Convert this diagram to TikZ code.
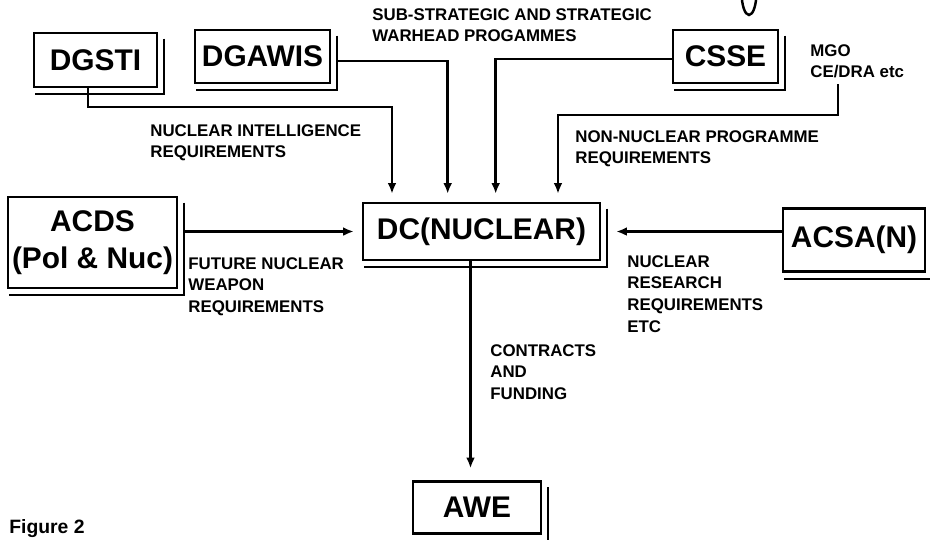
\documentclass[tikz,border=0pt]{standalone}
\usepackage{fontspec}
\setmainfont{Liberation Sans}
\usetikzlibrary{arrows.meta}

\begin{document}
\begin{tikzpicture}[
		x=0.02cm, y=-0.02cm,
		B/.style={draw, line width=1.5pt, inner sep=0pt, align=center, font=\fontsize{17}{21}\selectfont\bfseries},
		T/.style={anchor=north west, inner sep=0pt, align=left, font=\fontsize{9.6}{12.4}\selectfont\bfseries},
		F/.style={line width=1.4pt, -{Latex[length=6pt,width=5pt]}, shorten >=1.6mm},
		S/.style={line width=1pt}
		]
		\useasboundingbox (0,0) rectangle (930,539);
		
		\node [B, minimum width=24.6mm, minimum height=10.8mm] (dgsti) at (95.5,60) {DGSTI};
		\node [B, minimum width=27mm, minimum height=10.6mm] (dgawis) at (262.5,56.5) {DGAWIS};
		\node [B, minimum width=21mm, minimum height=10.6mm] (csse) at (725.5,56.5) {CSSE};
		\node [B, minimum width=33.8mm, minimum height=18.2mm] (acds) at (92.5,242.5) {ACDS\\(Pol \& Nuc)};
		\node [B, minimum width=47.4mm, minimum height=11.4mm] (dc) at (481.5,231.5) {DC(NUCLEAR)};
		\node [B, minimum width=28.4mm, minimum height=12.6mm] (acsa) at (854,240) {ACSA(N)};
		\node [B, minimum width=25.6mm, minimum height=10.4mm] (awe) at (477,507.5) {AWE};
		
		% shadow lines
		\foreach \n in {dgsti,dgawis,csse,acds,dc,acsa,awe}{
			\draw [S] ([shift={(1.2mm,-1.4mm)}]\n.north east) -- ([shift={(1.2mm,-1.2mm)}]\n.south east) -- ([shift={(0.4mm,-1.2mm)}]\n.south west);
		}
		
		% write labels
		\node [T] (sub) at (372,8) {SUB-STRATEGIC AND STRATEGIC\\WARHEAD PROGAMMES};
		\node [T] (intel) at (150,124) {NUCLEAR INTELLIGENCE\\REQUIREMENTS};
		\node [T] (nonnuc) at (575,130) {NON-NUCLEAR PROGRAMME\\REQUIREMENTS};
		\node [T] (mgo) at (810,44) {MGO\\CE/DRA etc};
		\node [T] (future) at (188,257) {FUTURE NUCLEAR\\WEAPON\\REQUIREMENTS};
		\node [T] (research) at (627,255) {NUCLEAR\\RESEARCH\\REQUIREMENTS\\ETC};
		\node [T] (funding) at (490,344) {CONTRACTS\\AND\\FUNDING};
		\node [anchor=base west, inner sep=0pt, font=\fontsize{11}{13}\selectfont\bfseries] (fig) at (9,533) {Figure 2};
		
		\coordinate (t1) at (392,107);
		\coordinate (t2) at (838,84);
		\coordinate (t3) at (558,115);
		
		\draw [F] ([xshift=-1.5mm]dgsti.south) |- (t1) -- (t1 |- dc.north);
		\draw [F] ([xshift=1.2mm,yshift=-0.9mm]dgawis.east) -| ([xshift=17.2mm]dc.north west);
		\draw [F] ([yshift=-0.5mm]csse.west) -| ([xshift=26.8mm]dc.north west);
		\draw [F] (t2) |- (t3) -- (t3 |- dc.north);
		\draw [F] ([xshift=1.2mm]acds.east |- dc.west) -- (dc.west);
		\draw [F, shorten >=3mm] (acsa.west |- dc.east) -- (dc.east);
		\draw [F, shorten >=2.4mm] ([xshift=-2.2mm]dc.south) -- ([xshift=-2.2mm]dc.south |- awe.north);
		
		\draw [line width=1.4pt] (749,-8) ellipse (7.5 and 23);
		
		\end{tikzpicture}
\end{document}
